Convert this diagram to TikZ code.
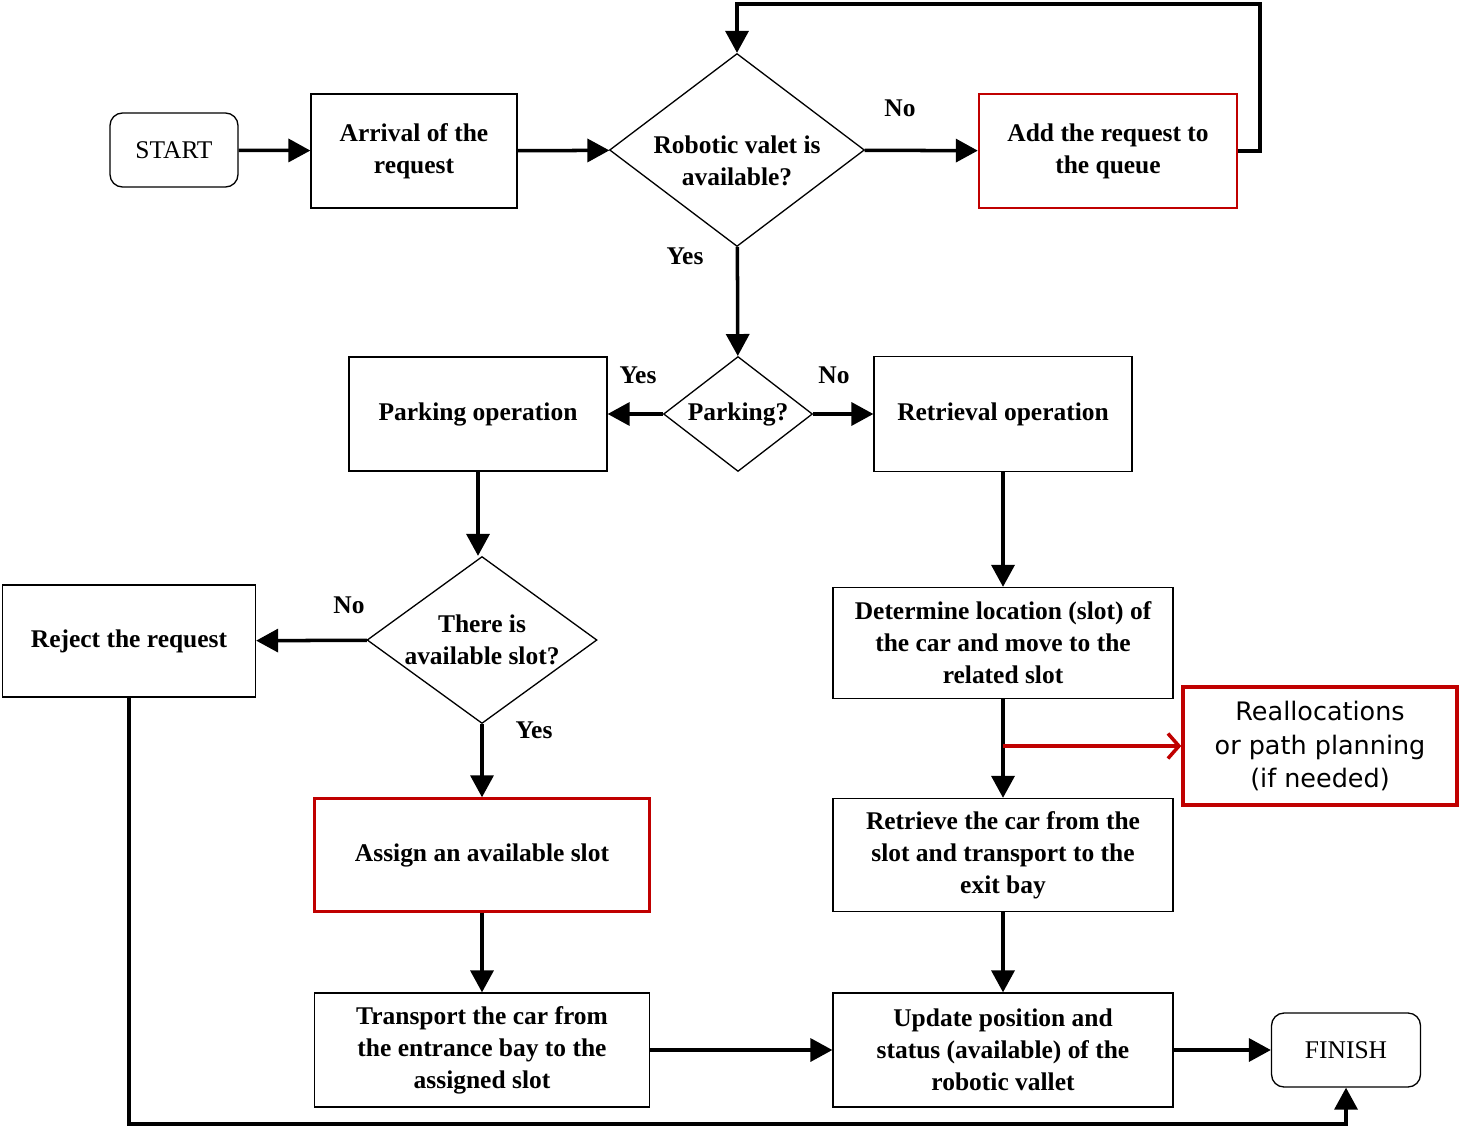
\documentclass[tikz,border=0pt]{standalone}
\usepackage{fontspec}
\setmainfont{Liberation Serif}
\newfontfamily\sansfont{DejaVu Sans}
\usepackage{tikz}
\usetikzlibrary{shapes.geometric,arrows.meta}
\definecolor{boxred}{RGB}{192,0,0}

\begin{document}
\begin{tikzpicture}[x=0.02cm, y=-0.02cm,
  txt/.style={font=\fontsize{14.5}{18.2}\selectfont\bfseries, align=center},
  box/.style={txt, draw, rectangle, line width=0.75pt, inner sep=2pt},
  redbox/.style={box, draw=boxred, line width=1.4pt},
  terminal/.style={draw, rectangle, rounded corners=0.25cm, line width=0.75pt, font=\fontsize{14.5}{18.2}\selectfont, minimum width=2.56cm, minimum height=1.48cm},
  decision/.style={txt, draw, diamond, line width=0.75pt, inner sep=0pt},
  flow/.style={-{Triangle[length=0.44cm, width=0.46cm]}, line width=2pt},
  redflow/.style={draw=boxred, line width=2pt, -{Straight Barb[length=0.22cm, width=0.5cm]}},
  lbl/.style={txt}]

\useasboundingbox (0,0) rectangle (1462,1128);

% top row
\node[terminal] (start) at (174,150) {START};
\node[box, minimum width=4.12cm, minimum height=2.28cm] (arrival) at (414,151) {Arrival of the\\request};
\node[decision, minimum width=5.1cm, minimum height=3.86cm, label={[txt, yshift=-0.22cm]center:{Robotic valet is\\available?}}] (valet) at (737,150) {};
\node[redbox, minimum width=5.16cm, minimum height=2.28cm] (queue) at (1108,151) {Add the request to\\the queue};

% parking or retrieval
\node[decision, aspect=1.3, minimum width=2.98cm, minimum height=2.3cm] (parking) at (738,414) {\raisebox{-0.08cm}{Parking?}};
\node[box, minimum width=5.16cm, minimum height=2.28cm] (parkop) at (478,414) {Parking operation};
\node[box, minimum width=5.16cm, minimum height=2.3cm] (retrop) at (1003,414) {Retrieval operation};

% parking branch
\node[decision, aspect=1.38, minimum width=4.6cm, minimum height=3.34cm] (slot) at (482,640) {There is\\available slot?};
\node[box, minimum width=5.06cm, minimum height=2.24cm] (reject) at (129,641) {Reject the request};
\node[redbox, minimum width=6.7cm, minimum height=2.26cm] (assign) at (482,855) {Assign an available slot};
\node[box, minimum width=6.7cm, minimum height=2.28cm] (transport) at (482,1050) {Transport the car from\\the entrance bay to the\\assigned slot};

% retrieval branch
\node[box, minimum width=6.8cm, minimum height=2.22cm] (locate) at (1003,643) {Determine location (slot) of\\the car and move to the\\related slot};
\node[box, minimum width=6.8cm, minimum height=2.26cm] (retrieve) at (1003,855) {Retrieve the car from the\\slot and transport to the\\exit bay};
\node[draw=boxred, line width=2pt, rectangle, minimum width=5.48cm, minimum height=2.36cm, align=center, font=\sansfont\fontsize{14.5}{19}\selectfont] (realloc) at (1320,746) {Reallocations\\or path planning\\(if needed)};

% end
\node[box, minimum width=6.8cm, minimum height=2.28cm] (update) at (1003,1050) {Update position and\\status (available) of the\\robotic vallet};
\node[terminal, minimum width=2.98cm] (finish) at (1346,1050) {FINISH};

\coordinate (loop) at (1260,4);
\coordinate (floor) at (0,1124);
\coordinate (branch) at (1003,746);

\draw[flow] (start) -- (arrival);
\draw[flow] (arrival) -- (valet);
\draw[flow] (valet) -- (queue);
\draw[flow] (queue.east) -| (loop) -| (valet.north);
\draw[flow] (valet) -- (parking);
\draw[flow] (parking) -- (parkop);
\draw[flow] (parking) -- (retrop);
\draw[flow] (parkop.south) -- (parkop.south |- slot.north);
\draw[flow] (slot) -- (reject);
\draw[flow] (slot) -- (assign);
\draw[flow] (assign) -- (transport);
\draw[flow] (transport) -- (update);
\draw[flow] (update) -- (finish);
\draw[flow] (reject.south) |- (floor -| finish.south) -- (finish.south);
\draw[flow] (retrop) -- (locate);
\draw[flow] (locate) -- (retrieve);
\draw[redflow] (branch) -- (realloc.west);
\draw[flow] (retrieve) -- (update);

\node[lbl] (no valet) at (900,108) {No};
\node[lbl] (yes valet) at (685,256) {Yes};
\node[lbl] (yes parking) at (638,375) {Yes};
\node[lbl] (no parking) at (834,375) {No};
\node[lbl] (no slot) at (349,605) {No};
\node[lbl] (yes slot) at (534,730) {Yes};

\end{tikzpicture}
\end{document}
